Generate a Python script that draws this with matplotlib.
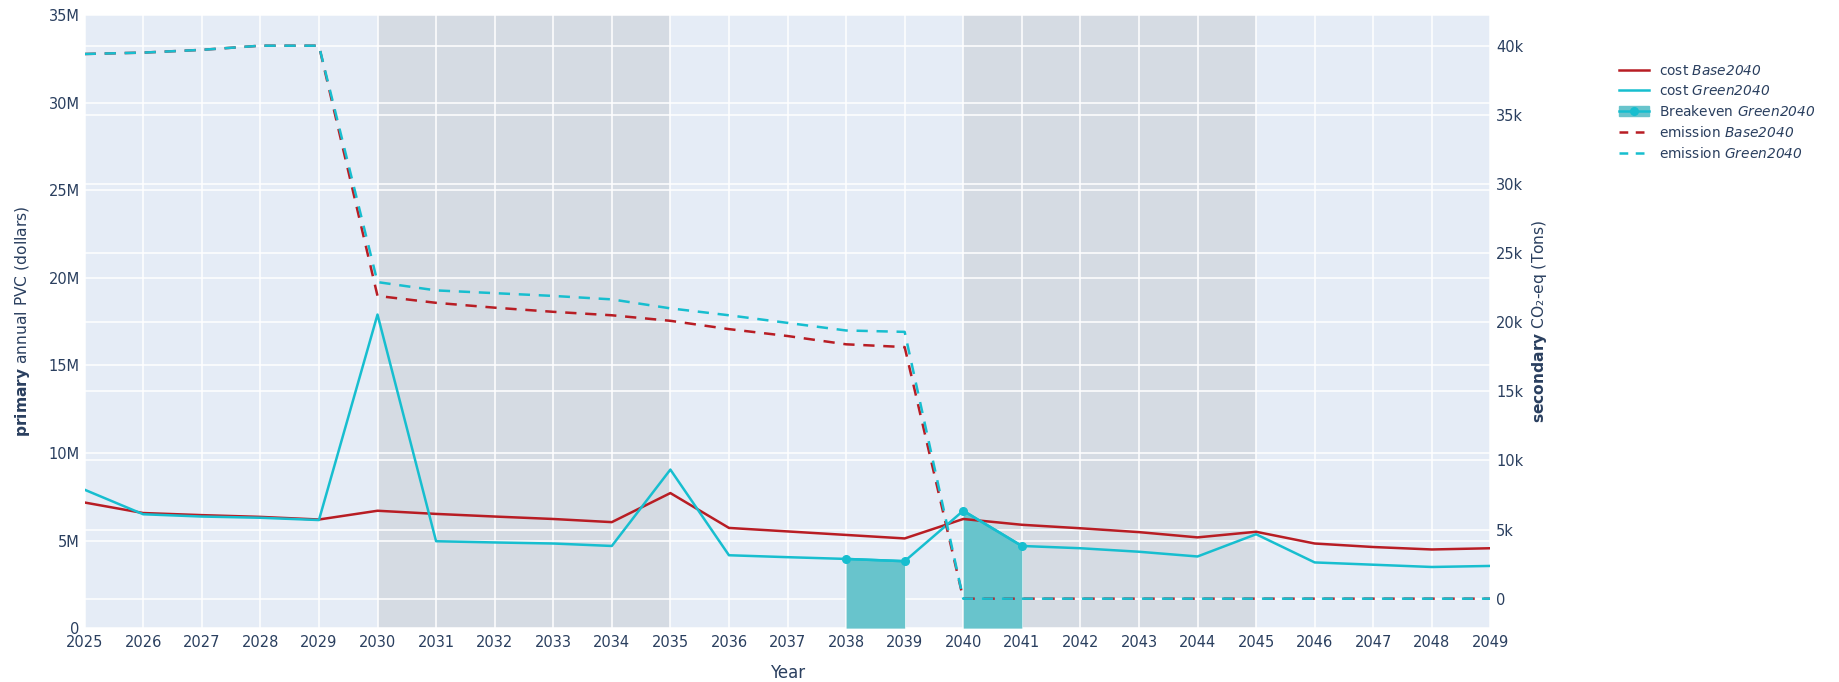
import numpy as np
import matplotlib
matplotlib.use("Agg")
import matplotlib.pyplot as plt
from matplotlib.patches import Patch
from matplotlib.lines import Line2D

plt.rcParams['font.family'] = ['DejaVu Sans']
# math text is only used for the italic series names and bold axis prefixes,
# so "rm" is set to italic to get italic digits as well
plt.rcParams['mathtext.fontset'] = 'custom'
plt.rcParams['mathtext.rm'] = 'DejaVu Sans:italic'
plt.rcParams['mathtext.it'] = 'DejaVu Sans:italic'
plt.rcParams['mathtext.bf'] = 'DejaVu Sans:bold'

# Years on the x axis
years = list(range(2025, 2050))

# Annual PVC cost (dollars)
cost_base = [7.17e6, 6.57e6, 6.45e6, 6.35e6, 6.2e6, 6.7e6, 6.52e6, 6.37e6, 6.23e6, 6.05e6,
             7.71e6, 5.72e6, 5.52e6, 5.32e6, 5.12e6, 6.23e6, 5.9e6, 5.7e6, 5.48e6, 5.18e6,
             5.5e6, 4.83e6, 4.63e6, 4.49e6, 4.56e6]
cost_green = [7.9e6, 6.5e6, 6.37e6, 6.3e6, 6.17e6, 17.9e6, 4.96e6, 4.89e6, 4.83e6, 4.69e6,
              9.05e6, 4.16e6, 4.05e6, 3.95e6, 3.82e6, 6.7e6, 4.69e6, 4.56e6, 4.36e6, 4.09e6,
              5.36e6, 3.75e6, 3.62e6, 3.49e6, 3.55e6]

# Years where Green2040 breaks even (two separate stretches)
breakeven_years = [[2038, 2039], [2040, 2041]]

# Emissions (tons CO2-eq)
emis_base = [39400, 39500, 39700, 40000, 40000, 21900, 21400, 21050, 20750, 20500,
             20100, 19500, 19000, 18400, 18200, 0, 0, 0, 0, 0,
             0, 0, 0, 0, 0]
emis_green = [39400, 39500, 39700, 40000, 40000, 22900, 22300, 22100, 21900, 21650,
              21000, 20500, 19950, 19400, 19300, 0, 0, 0, 0, 0,
              0, 0, 0, 0, 0]

# Shaded periods
periods = [(2030, 2035), (2040, 2045)]

left_ticks = [0, 5e6, 10e6, 15e6, 20e6, 25e6, 30e6, 35e6]
right_ticks = [0, 5000, 10000, 15000, 20000, 25000, 30000, 35000, 40000]

RED = '#b81d24'
CYAN = '#17becf'
FILL = '#68c4cc'
TXT = '#2a3f5f'
BG = '#e5ecf6'

fig = plt.figure(figsize=(18.4, 6.82), dpi=100)
ax = fig.add_axes([0.046, 0.079, 0.764, 0.899])
ax2 = ax.twinx()

lo1, hi1 = 0, 35e6
lo2, hi2 = -2130, 42220
ax.set_ylim(lo1, hi1)
ax2.set_ylim(lo2, hi2)
ax.set_xlim(years[0], years[-1])

ax.set_facecolor(BG)
for a, b in periods:
    ax.axvspan(a, b, color='#d5dbe3', lw=0, zorder=0.2)

# grid lines for both y axes drawn on the bottom axes
for x in years:
    ax.axvline(x, color='white', lw=1.1, zorder=0.5)
for v in left_ticks:
    ax.axhline(v, color='white', lw=1.1, zorder=0.5)
for v in right_ticks:
    yv = lo1 + (v - lo2) / (hi2 - lo2) * (hi1 - lo1)
    ax.axhline(yv, color='white', lw=1.1, zorder=0.5)

# cost lines
ax.plot(years, cost_base, color=RED, lw=1.8, zorder=3)
ax.plot(years, cost_green, color=CYAN, lw=1.8, zorder=3)

# breakeven fill
for seg in breakeven_years:
    idx = [years.index(y) for y in seg]
    xs = [years[i] for i in idx]
    ys = [cost_green[i] for i in idx]
    ax.fill_between(xs, 0, ys, color=FILL, lw=0, zorder=2)
    ax.plot(xs, ys, color=CYAN, lw=1.8, marker='o', ms=5.5, zorder=4)

# emission lines on secondary axis
ax2.plot(years, emis_base, color=RED, lw=1.8, dashes=(4.5, 3.5))
ax2.plot(years, emis_green, color=CYAN, lw=1.8, dashes=(4.5, 3.5))

for a in (ax, ax2):
    for s in a.spines.values():
        s.set_visible(False)
    a.tick_params(length=0, labelsize=10.5, labelcolor=TXT)

ax.set_xticks(years)
ax.set_xticklabels([str(y) for y in years])
ax.tick_params(axis='x', pad=5)
ax.set_yticks(left_ticks)
ax.set_yticklabels(['0' if v == 0 else f'{v/1e6:g}M' for v in left_ticks])
ax2.set_yticks(right_ticks)
ax2.set_yticklabels(['0' if v == 0 else f'{v/1000:g}k' for v in right_ticks])
ax2.tick_params(axis='y', pad=4)

ax.set_xlabel('Year', fontsize=12, color=TXT, labelpad=10)
ax.set_ylabel(r'$\mathbf{primary}$ annual PVC (dollars)', fontsize=11.2, color=TXT, labelpad=12)
ax2.set_ylabel('$\\mathbf{secondary}$ CO\u2082-eq (Tons)', fontsize=11.2, color=TXT, labelpad=5)

handles = [
    Line2D([], [], color=RED, lw=1.8),
    Line2D([], [], color=CYAN, lw=1.8),
    (Patch(color=FILL), Line2D([], [], color=CYAN, lw=1.8, marker='o', ms=5.5)),
    Line2D([], [], color=RED, lw=1.8, dashes=(3.5, 3)),
    Line2D([], [], color=CYAN, lw=1.8, dashes=(3.5, 3)),
]
labels = [r'cost $\mathit{Base2040}$', r'cost $\mathit{Green2040}$',
          r'Breakeven $\mathit{Green2040}$',
          r'emission $\mathit{Base2040}$', r'emission $\mathit{Green2040}$']
leg = fig.legend(handles, labels, loc='upper left', bbox_to_anchor=(0.873, 0.925),
                 frameon=False, fontsize=9.9, labelspacing=0.45, handlelength=2.2,
                 handletextpad=0.75)
for t in leg.get_texts():
    t.set_color(TXT)

fig.savefig('out.png', dpi=100)
